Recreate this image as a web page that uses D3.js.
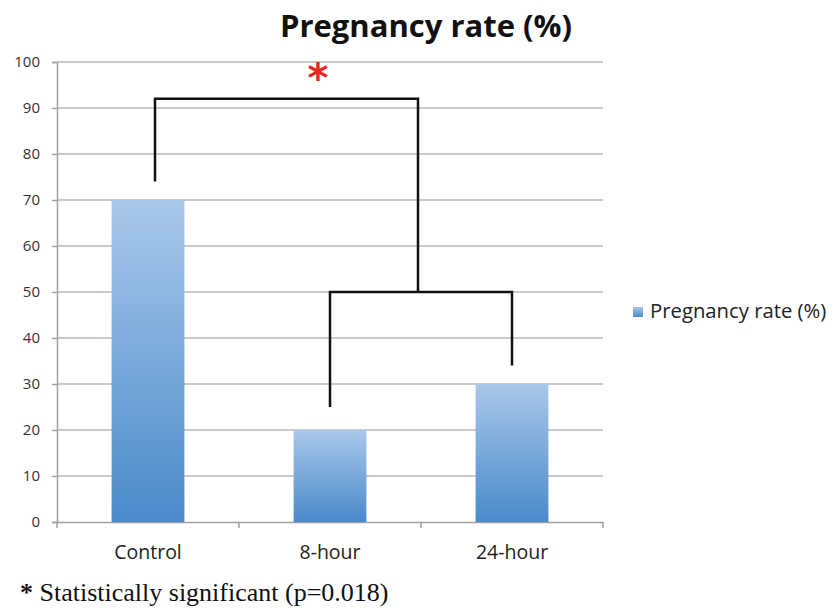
<!DOCTYPE html>
<html><head><meta charset="utf-8">
<script src="https://cdn.jsdelivr.net/npm/d3@7"></script>
<style>body{margin:0;background:#fff}svg{display:block}</style>
</head><body><svg id="c" width="832" height="608"></svg>
<script>
const categories = ["Control", "8-hour", "24-hour"];
const values = [70, 20, 30];
const yTicks = [0, 10, 20, 30, 40, 50, 60, 70, 80, 90, 100];
const seriesName = "Pregnancy rate (%)";
const title = "Pregnancy rate (%)";
const footnoteMark = "*";
const footnote = " Statistically significant (p=0.018)";
// brackets: [leftCat, rightCat, topValue, leftBottomValue, rightBottomValue]
const innerBracket = ["8-hour", "24-hour", 50, 25, 34];
const outerBracket = ["Control", null, 92, 74, 50];

const FONT = "'Open Sans', sans-serif";
const svg = d3.select("#c");
const m = {l: 57, r: 603, t: 62, b: 522};
const x = d3.scaleBand().domain(categories).range([m.l, m.r]).paddingInner(0.6).paddingOuter(0.3);
const xb = d3.scaleBand().domain(categories).range([m.l, m.r]);
const y = d3.scaleLinear().domain([0, 100]).range([m.b, m.t]);

const defs = svg.append("defs");
const g = defs.append("linearGradient").attr("id", "bg").attr("x1", 0).attr("y1", 0).attr("x2", 0).attr("y2", 1);
g.append("stop").attr("offset", "0%").attr("stop-color", "#a9c8ea");
g.append("stop").attr("offset", "100%").attr("stop-color", "#4a8acb");

// gridlines
svg.append("g").selectAll("line").data(yTicks.filter(d => d > 0)).join("line")
  .attr("x1", m.l).attr("x2", m.r).attr("y1", d => y(d)).attr("y2", d => y(d))
  .attr("stroke", "#b8b8b8").attr("stroke-width", 1.5);

// y axis
const ya = svg.append("g").attr("transform", `translate(${m.l},0)`)
  .call(d3.axisLeft(y).tickValues(yTicks).tickSize(5).tickPadding(12));
ya.select(".domain").attr("stroke", "#a0a0a0").attr("stroke-width", 1.5);
ya.selectAll(".tick line").attr("stroke", "#a0a0a0").attr("stroke-width", 1.5);
ya.selectAll("text").attr("font-family", FONT).attr("font-size", 15).attr("fill", "#333");

// x axis
const xa = svg.append("g").attr("transform", `translate(0,${m.b})`)
  .call(d3.axisBottom(xb).tickSize(0).tickPadding(23));
xa.select(".domain").attr("stroke", "#a0a0a0").attr("stroke-width", 1.5);
xa.selectAll("text").attr("font-family", FONT).attr("font-size", 19.5).attr("fill", "#222");
const bounds = categories.map(c => xb(c)).concat([xb(categories[categories.length-1]) + xb.bandwidth()]);
xa.append("g").selectAll("line").data(bounds).join("line")
  .attr("x1", d => d).attr("x2", d => d).attr("y1", 0).attr("y2", 6)
  .attr("stroke", "#a0a0a0").attr("stroke-width", 1.5);

// bars
svg.append("g").selectAll("rect").data(values).join("rect")
  .attr("x", (d, i) => x(categories[i])).attr("width", x.bandwidth())
  .attr("y", d => y(d)).attr("height", d => y(0) - y(d))
  .attr("fill", "url(#bg)");

// brackets
const cx = c => xb(c) + xb.bandwidth() / 2;
const ix1 = cx(innerBracket[0]), ix2 = cx(innerBracket[1]);
const innerMid = (ix1 + ix2) / 2;
const ox1 = cx(outerBracket[0]) + 7;
const line = d3.line();
const br = svg.append("g").attr("fill", "none").attr("stroke", "#111").attr("stroke-width", 2.5);
br.append("path").attr("d", line([[ix1, y(innerBracket[3])], [ix1, y(innerBracket[2])], [ix2, y(innerBracket[2])], [ix2, y(innerBracket[4])]]));
br.append("path").attr("d", line([[ox1, y(outerBracket[3])], [ox1, y(outerBracket[2])], [innerMid - 3, y(outerBracket[2])], [innerMid - 3, y(outerBracket[4])]]));

// asterisk
svg.append("text").attr("x", ox1 + 0.62 * (innerMid - 3 - ox1)).attr("y", 92).attr("text-anchor", "middle")
  .attr("font-family", "'DejaVu Sans', sans-serif").attr("font-weight", "bold").attr("font-size", 40).attr("fill", "#e8251f").text("*");

// title
svg.append("text").attr("x", 426).attr("y", 37).attr("text-anchor", "middle")
  .attr("font-family", FONT).attr("font-weight", "bold").attr("font-size", 31).attr("fill", "#111").text(title);

// legend
svg.append("rect").attr("x", 633).attr("y", 307).attr("width", 10).attr("height", 10).attr("fill", "url(#bg)");
svg.append("text").attr("x", 650).attr("y", 318).attr("font-family", FONT).attr("font-size", 20.3).attr("fill", "#222").text(seriesName);

// footnote
const fn = svg.append("text").attr("x", 20).attr("y", 601).attr("font-family", "'Liberation Serif', serif").attr("font-size", 26).attr("fill", "#111");
fn.append("tspan").attr("font-weight", "bold").text(footnoteMark);
fn.append("tspan").text(footnote);
</script></body></html>
